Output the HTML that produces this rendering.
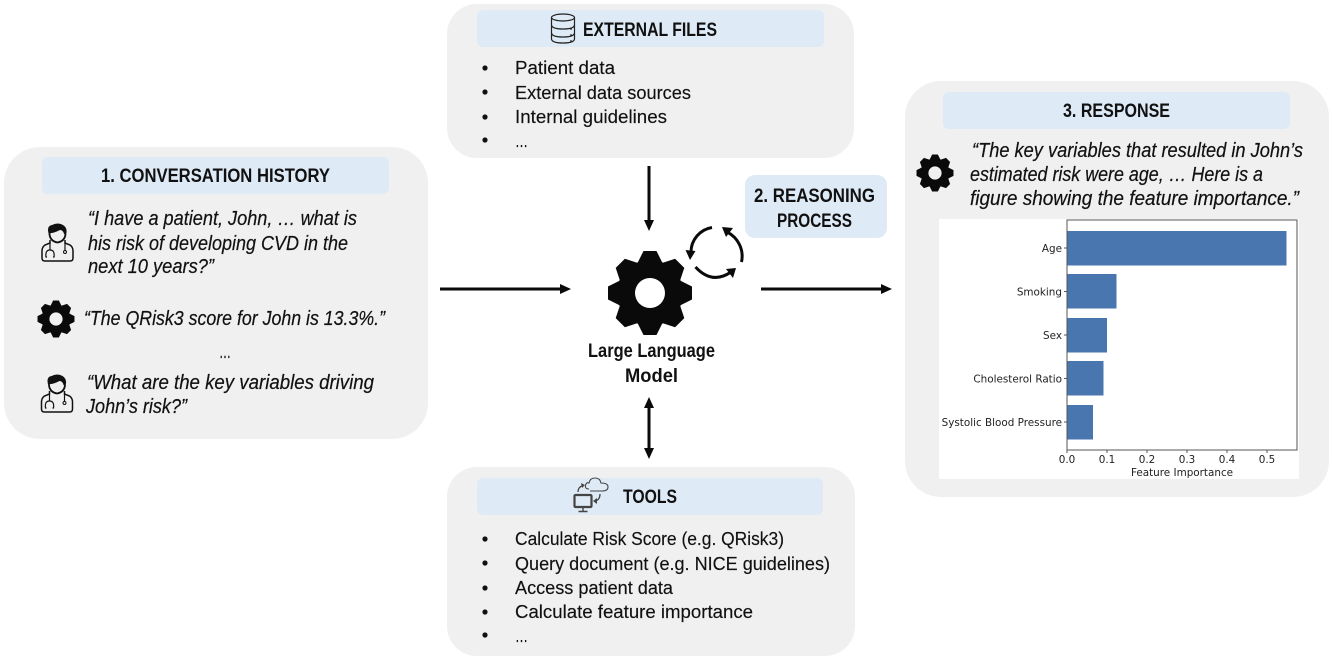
<!DOCTYPE html>
<html lang="en"><head><meta charset="utf-8"><title>LLM reasoning diagram</title>
<style>
html,body{margin:0;padding:0;background:#fff}
svg{display:block}
text{font-family:"Liberation Sans",sans-serif;fill:#111}
.h{font-weight:bold;font-size:19px}
.q{font-style:italic;font-size:20px;stroke:#111;stroke-width:.2px}
.l{font-size:18.5px;stroke:#111;stroke-width:.15px}
.c{font-family:"DejaVu Sans",sans-serif;font-size:10.4px;fill:#222}
</style></head><body>
<svg width="1333" height="661" viewBox="0 0 1333 661" xmlns="http://www.w3.org/2000/svg">
<defs>
<g id="gear">
<circle r="33" fill="#0a0a0a"/>
<g fill="#0a0a0a">
<polygon points="-6.500,-42 6.500,-42 13,-29 -13,-29"/>
<polygon points="-6.500,-42 6.500,-42 13,-29 -13,-29" transform="rotate(45)"/>
<polygon points="-6.500,-42 6.500,-42 13,-29 -13,-29" transform="rotate(90)"/>
<polygon points="-6.500,-42 6.500,-42 13,-29 -13,-29" transform="rotate(135)"/>
<polygon points="-6.500,-42 6.500,-42 13,-29 -13,-29" transform="rotate(180)"/>
<polygon points="-6.500,-42 6.500,-42 13,-29 -13,-29" transform="rotate(225)"/>
<polygon points="-6.500,-42 6.500,-42 13,-29 -13,-29" transform="rotate(270)"/>
<polygon points="-6.500,-42 6.500,-42 13,-29 -13,-29" transform="rotate(315)"/>
</g>
<circle r="15" fill="currentColor"/>
</g>
<g id="doc">
<path d="M50 240 L50 243 L45 245 Q42 247 42 251 L42 258 Q42 261 45 261 L70 261 Q73 261 73 258 L73 251 Q73 247 70 245 L65 243 L65 240" fill="none" stroke="#111" stroke-width="1.500"/>
<path d="M49.500 234 Q50 241 57.500 242.500 Q65 241 65.500 234" fill="none" stroke="#111" stroke-width="1.800"/>
<path d="M49 235 Q46 226 52 225 Q58 222 63 225 Q68 228 66 235 L64 234 Q63 230 60 230 Q54 233 51 233 Z" fill="#111"/>
<path d="M47 257 L46 257 Q45 250 50 250 Q55 250 54 257 L53 257" fill="none" stroke="#111" stroke-width="1.200"/>
<path d="M50 243 L50 250 M65 243 L65 251" stroke="#111" stroke-width="1.200" fill="none"/>
<circle cx="65" cy="252" r="1.500" fill="none" stroke="#111" stroke-width="1"/>
</g>
</defs>

<rect width="1333" height="661" fill="#fff"/>

<!-- panels -->
<rect x="4" y="147" width="424" height="292" rx="36" fill="#f0f0f0"/>
<rect x="447" y="4" width="407" height="154" rx="30" fill="#f0f0f0"/>
<rect x="905" y="81" width="424" height="416" rx="36" fill="#f0f0f0"/>
<rect x="447" y="467" width="408" height="189" rx="30" fill="#f0f0f0"/>

<!-- headers -->
<rect x="42" y="157" width="347" height="37" rx="6" fill="#deeaf6"/>
<rect x="477" y="10" width="347" height="37" rx="6" fill="#deeaf6"/>
<rect x="943" y="92" width="347" height="37" rx="6" fill="#deeaf6"/>
<rect x="477" y="478" width="346" height="37" rx="6" fill="#deeaf6"/>
<rect x="745" y="175" width="142" height="63" rx="10" fill="#deeaf6"/>

<text class="h" x="101" y="182" textLength="229" lengthAdjust="spacingAndGlyphs">1. CONVERSATION HISTORY</text>
<text class="h" x="583" y="36" textLength="134" lengthAdjust="spacingAndGlyphs">EXTERNAL FILES</text>
<text class="h" x="1063" y="117" textLength="107" lengthAdjust="spacingAndGlyphs">3. RESPONSE</text>
<text class="h" x="623" y="503" textLength="54" lengthAdjust="spacingAndGlyphs">TOOLS</text>
<text class="h" x="754" y="202" textLength="121" lengthAdjust="spacingAndGlyphs">2. REASONING</text>
<text class="h" x="777" y="227" textLength="75" lengthAdjust="spacingAndGlyphs">PROCESS</text>

<!-- conversation -->
<text class="q" x="88" y="225" textLength="269" lengthAdjust="spacingAndGlyphs">“I have a patient, John, … what is</text>
<text class="q" x="88" y="250" textLength="260" lengthAdjust="spacingAndGlyphs">his risk of developing CVD in the</text>
<text class="q" x="88" y="273" textLength="126" lengthAdjust="spacingAndGlyphs">next 10 years?”</text>
<text class="q" x="84" y="325" textLength="301" lengthAdjust="spacingAndGlyphs">“The QRisk3 score for John is 13.3%.”</text>
<text class="q" x="219" y="358" textLength="12" lengthAdjust="spacingAndGlyphs" style="font-style:normal">…</text>
<text class="q" x="87" y="389" textLength="287" lengthAdjust="spacingAndGlyphs">“What are the key variables driving</text>
<text class="q" x="86" y="413" textLength="101" lengthAdjust="spacingAndGlyphs">John’s risk?”</text>
<use href="#doc"/>
<use href="#doc" y="151" x="-0.500"/>
<use href="#gear" transform="translate(56 319) scale(.44)" color="#f0f0f0"/>

<!-- external files -->
<g fill="#111">
<circle cx="485" cy="68" r="2.600"/><circle cx="485" cy="92" r="2.600"/><circle cx="485" cy="117" r="2.600"/><circle cx="485" cy="140" r="2.600"/>
</g>
<text class="l" x="515" y="74" textLength="100" lengthAdjust="spacingAndGlyphs">Patient data</text>
<text class="l" x="515" y="99" textLength="176" lengthAdjust="spacingAndGlyphs">External data sources</text>
<text class="l" x="515" y="123" textLength="152" lengthAdjust="spacingAndGlyphs">Internal guidelines</text>
<text class="l" x="515" y="147" textLength="13" lengthAdjust="spacingAndGlyphs">…</text>
<g fill="none" stroke="#222" stroke-width="1.200">
<ellipse cx="563" cy="17.500" rx="11.500" ry="3.500"/>
<path d="M551.500 17.500 V39 Q552 43 563 43 Q574 43 574.500 39 V17.500"/>
<path d="M551.500 25 Q552 29 563 29 Q574 29 574.500 25"/>
<path d="M551.500 33 Q552 37 563 37 Q574 37 574.500 33"/>
</g>
<g fill="#222"><circle cx="571" cy="29" r=".9"/><circle cx="571" cy="35" r=".9"/><circle cx="571" cy="41" r=".9"/></g>

<!-- tools -->
<g fill="#111">
<circle cx="485" cy="539" r="2.600"/><circle cx="485" cy="563" r="2.600"/><circle cx="485" cy="588" r="2.600"/><circle cx="485" cy="612" r="2.600"/><circle cx="485" cy="635" r="2.600"/>
</g>
<text class="l" x="515" y="545" textLength="269" lengthAdjust="spacingAndGlyphs">Calculate Risk Score (e.g. QRisk3)</text>
<text class="l" x="515" y="570" textLength="315" lengthAdjust="spacingAndGlyphs">Query document (e.g. NICE guidelines)</text>
<text class="l" x="515" y="594" textLength="158" lengthAdjust="spacingAndGlyphs">Access patient data</text>
<text class="l" x="515" y="618" textLength="238" lengthAdjust="spacingAndGlyphs">Calculate feature importance</text>
<text class="l" x="515" y="642" textLength="13" lengthAdjust="spacingAndGlyphs">…</text>
<g fill="none" stroke="#444">
<rect x="574.500" y="495" width="17" height="12" rx="1" stroke-width="2.200"/>
<path d="M583 507 V511 M578.500 511.500 H587.500" stroke-width="1.400"/>
<path d="M589 489 Q584 489 586 484 Q587 482 589 483 Q590 478 595 478 Q600 478 601 483 Q608 483 608 487 Q608 491 602 491 L590 491" stroke-width="1.100"/>
<path d="M578 492 Q578 487 583 485.500" stroke-width="1.300"/>
<path d="M600 494 Q600 500 595 501" stroke-width="1.300"/>
</g>
<g fill="#444"><polygon points="581,483 585,485 582,488"/><polygon points="597,498 597,504 593,501"/></g>

<!-- LLM -->
<use href="#gear" transform="translate(650 293)" color="#ffffff"/>
<text class="h" x="588" y="357" textLength="127" lengthAdjust="spacingAndGlyphs">Large Language</text>
<text class="h" x="625" y="382" textLength="53" lengthAdjust="spacingAndGlyphs">Model</text>

<!-- arrows -->
<g stroke="#0a0a0a" stroke-width="3" fill="none">
<path d="M440 289 H563"/><path d="M761 289 H884"/><path d="M649 166 V223"/><path d="M649 405 V451"/>
</g>
<g fill="#0a0a0a">
<polygon points="571,289 560,284 560,294"/>
<polygon points="892,289 881,284 881,294"/>
<polygon points="649,231 644,220 654,220"/>
<polygon points="649,397 644,408 654,408"/>
<polygon points="649,459 644,448 654,448"/>
</g>

<!-- cycle -->
<g fill="none" stroke="#0a0a0a" stroke-width="3">
<path d="M712 227.500 A25 25 0 0 0 691 252"/>
<path d="M741.500 262 A27 27 0 0 0 727 232"/>
<path d="M695.500 267 Q712 285 731 272"/>
</g>
<g fill="#0a0a0a">
<polygon points="690,260 685.500,250 695.500,251"/>
<polygon points="722,227 733,228 726,237"/>
<polygon points="736,268 733,278 726,269"/>
</g>

<!-- response -->
<text class="q" x="972" y="157" textLength="331" lengthAdjust="spacingAndGlyphs">“The key variables that resulted in John’s</text>
<text class="q" x="970" y="181" textLength="293" lengthAdjust="spacingAndGlyphs">estimated risk were age, … Here is a</text>
<text class="q" x="970" y="205" textLength="329" lengthAdjust="spacingAndGlyphs">figure showing the feature importance.”</text>
<use href="#gear" transform="translate(935 173) scale(.44)" color="#f0f0f0"/>

<!-- chart -->
<rect x="939" y="219" width="360" height="260" fill="#fff"/>
<g fill="#4a76b0">
<rect x="1067" y="231" width="219.500" height="34.500"/>
<rect x="1067" y="274" width="49.500" height="34.500"/>
<rect x="1067" y="318" width="40" height="34.500"/>
<rect x="1067" y="361" width="36.500" height="34.500"/>
<rect x="1067" y="405" width="26" height="34.500"/>
</g>
<rect x="1067" y="220" width="230" height="230" fill="none" stroke="#555" stroke-width="1"/>
<g stroke="#555" stroke-width="1">
<path d="M1064 248H1067M1064 291.500H1067M1064 335H1067M1064 378.500H1067M1064 422H1067"/>
<path d="M1067 450V453M1107 450V453M1147 450V453M1187 450V453M1227 450V453M1267 450V453"/>
</g>
<g text-anchor="end">
<text class="c" x="1062" y="252">Age</text>
<text class="c" x="1062" y="295.500">Smoking</text>
<text class="c" x="1062" y="339">Sex</text>
<text class="c" x="1062" y="382.500">Cholesterol Ratio</text>
<text class="c" x="1062" y="426">Systolic Blood Pressure</text>
</g>
<g text-anchor="middle">
<text class="c" x="1067" y="463">0.0</text>
<text class="c" x="1107" y="463">0.1</text>
<text class="c" x="1147" y="463">0.2</text>
<text class="c" x="1187" y="463">0.3</text>
<text class="c" x="1227" y="463">0.4</text>
<text class="c" x="1267" y="463">0.5</text>
<text class="c" x="1182" y="476">Feature Importance</text>
</g>
</svg>
</body></html>
